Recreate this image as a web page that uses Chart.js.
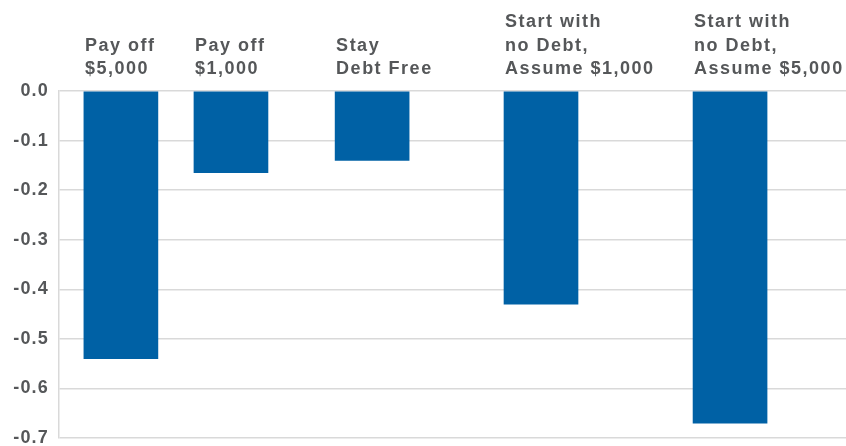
<!DOCTYPE html>
<html>
<head>
<meta charset="utf-8">
<script src="https://cdn.jsdelivr.net/npm/chart.js@4.4.1/dist/chart.umd.min.js"></script>
<style>
    html, body { margin: 0; padding: 0; background: #ffffff; }
    #wrap { width: 846px; height: 446px; position: relative; }
</style>
</head>
<body>
<div id="wrap"><canvas id="chart"></canvas></div>
<script>
// 各カテゴリのラベル（複数行）
const categoryLabels = [
    ['Pay off', '$5,000'],
    ['Pay off', '$1,000'],
    ['Stay', 'Debt Free'],
    ['Start with', 'no Debt,', 'Assume $1,000'],
    ['Start with', 'no Debt,', 'Assume $5,000'],
];
// 値
const values = [-0.54, -0.165, -0.14, -0.43, -0.67];
// 横軸上のカテゴリ位置（元図は間隔が不均一）
const categorySlots = [2.21, 6.14, 11.18, 17.21, 23.96];
const yMin = -0.7;
const yMax = 0;
const yStep = 0.1;

const TEXT_COLOR = '#555759';
const GRID_COLOR = '#d9d9d9';
const BAR_COLOR = '#0061a5';

// 棒の上にカテゴリ名を描く
const topLabels = {
    id: 'topLabels',
    afterDraw(chart) {
        const ctx = chart.ctx;
        const meta = chart.getDatasetMeta(0);
        ctx.save();
        ctx.font = 'bold 18px "Liberation Sans", Arial, sans-serif';
        ctx.letterSpacing = '1.5px';
        ctx.fillStyle = TEXT_COLOR;
        ctx.textAlign = 'left';
        ctx.textBaseline = 'alphabetic';
        meta.data.forEach((bar, i) => {
            const lines = categoryLabels[i];
            const left = bar.x - bar.width / 2 + 1;
            const lastBaseline = 74;
            lines.forEach((line, j) => {
                const y = lastBaseline - (lines.length - 1 - j) * 23.5;
                ctx.fillText(line, left, y);
            });
        });
        ctx.restore();
    },
};

// 目盛り文字の字間
const tickSpacing = {
    id: 'tickSpacing',
    beforeDraw(chart) {
        chart.ctx.letterSpacing = '1.2px';
    },
};

new Chart(document.getElementById('chart'), {
    type: 'bar',
    data: {
        datasets: [
            {
                data: values.map((v, i) => ({ x: categorySlots[i], y: v })),
                backgroundColor: BAR_COLOR,
                borderWidth: 0,
                barThickness: 74,
            },
        ],
    },
    options: {
        responsive: true,
        maintainAspectRatio: false,
        animation: false,
        layout: { padding: { top: 91, right: 0, bottom: 8, left: 0 } },
        plugins: {
            legend: { display: false },
            tooltip: { enabled: false },
        },
        scales: {
            x: {
                type: 'linear',
                min: 0,
                max: 28.1,
                offset: false,
                display: false,
            },
            y: {
                min: yMin,
                max: yMax,
                ticks: {
                    stepSize: yStep,
                    padding: 10,
                    color: TEXT_COLOR,
                    font: { family: '"Liberation Sans", Arial, sans-serif', size: 18, weight: 'bold' },
                    callback: (v) => v.toFixed(1),
                },
                grid: { color: GRID_COLOR, lineWidth: 1.5, drawTicks: false },
                border: { display: true, color: GRID_COLOR, width: 1.5 },
                afterFit(scale) {
                    scale.width = 59;
                    scale.paddingTop = 0;
                    scale.paddingBottom = 0;
                },
            },
        },
    },
    plugins: [tickSpacing, topLabels],
});
</script>
</body>
</html>
